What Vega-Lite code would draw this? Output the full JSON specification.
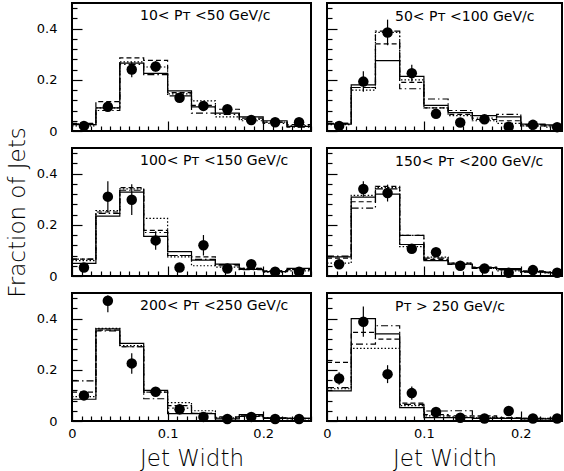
{
"$schema": "https://vega.github.io/schema/vega-lite/v6.json",
"padding": {"left": 5, "top": 1, "right": 0, "bottom": 0},
"background": "white",
"datasets": {
"hist": [
{"p":1,"x":0,"S":0.025,"D":0.03,"O":0.02,"DD":0.028},
{"p":1,"x":0.025,"S":0.09,"D":0.115,"O":0.09,"DD":0.08},
{"p":1,"x":0.05,"S":0.265,"D":0.286,"O":0.27,"DD":0.26},
{"p":1,"x":0.075,"S":0.225,"D":0.276,"O":0.25,"DD":0.22},
{"p":1,"x":0.1,"S":0.157,"D":0.15,"O":0.145,"DD":0.137},
{"p":1,"x":0.125,"S":0.094,"D":0.1,"O":0.118,"DD":0.07},
{"p":1,"x":0.15,"S":0.07,"D":0.085,"O":0.055,"DD":0.065},
{"p":1,"x":0.175,"S":0.055,"D":0.05,"O":0.045,"DD":0.04},
{"p":1,"x":0.2,"S":0.04,"D":0.035,"O":0.035,"DD":0.03},
{"p":1,"x":0.225,"S":0.018,"D":0.025,"O":0.02,"DD":0.015},
{"p":1,"x":0.25,"S":0.018,"D":0.025,"O":0.02,"DD":0.015},
{"p":2,"x":0,"S":0.027,"D":0.03,"O":0.025,"DD":0.03},
{"p":2,"x":0.025,"S":0.18,"D":0.17,"O":0.16,"DD":0.17},
{"p":2,"x":0.05,"S":0.275,"D":0.34,"O":0.385,"DD":0.39},
{"p":2,"x":0.075,"S":0.213,"D":0.19,"O":0.2,"DD":0.165},
{"p":2,"x":0.1,"S":0.1,"D":0.09,"O":0.09,"DD":0.125},
{"p":2,"x":0.125,"S":0.072,"D":0.065,"O":0.06,"DD":0.08},
{"p":2,"x":0.15,"S":0.06,"D":0.045,"O":0.04,"DD":0.05},
{"p":2,"x":0.175,"S":0.055,"D":0.04,"O":0.03,"DD":0.065},
{"p":2,"x":0.2,"S":0.027,"D":0.02,"O":0.02,"DD":0.025},
{"p":2,"x":0.225,"S":0.024,"D":0.02,"O":0.015,"DD":0.02},
{"p":2,"x":0.25,"S":0.024,"D":0.02,"O":0.015,"DD":0.02},
{"p":3,"x":0,"S":0.049,"D":0.066,"O":0.06,"DD":0.066},
{"p":3,"x":0.025,"S":0.234,"D":0.25,"O":0.255,"DD":0.245},
{"p":3,"x":0.05,"S":0.328,"D":0.345,"O":0.34,"DD":0.335},
{"p":3,"x":0.075,"S":0.155,"D":0.178,"O":0.225,"DD":0.17},
{"p":3,"x":0.1,"S":0.095,"D":0.08,"O":0.075,"DD":0.08},
{"p":3,"x":0.125,"S":0.062,"D":0.075,"O":0.04,"DD":0.065},
{"p":3,"x":0.15,"S":0.046,"D":0.04,"O":0.035,"DD":0.045},
{"p":3,"x":0.175,"S":0.026,"D":0.03,"O":0.03,"DD":0.025},
{"p":3,"x":0.2,"S":0.017,"D":0.02,"O":0.015,"DD":0.02},
{"p":3,"x":0.225,"S":0.03,"D":0.025,"O":0.02,"DD":0.025},
{"p":3,"x":0.25,"S":0.03,"D":0.025,"O":0.02,"DD":0.025},
{"p":4,"x":0,"S":0.075,"D":0.07,"O":0.05,"DD":0.078},
{"p":4,"x":0.025,"S":0.308,"D":0.29,"O":0.315,"DD":0.265},
{"p":4,"x":0.05,"S":0.32,"D":0.35,"O":0.345,"DD":0.34},
{"p":4,"x":0.075,"S":0.123,"D":0.159,"O":0.115,"DD":0.159},
{"p":4,"x":0.1,"S":0.06,"D":0.065,"O":0.074,"DD":0.07},
{"p":4,"x":0.125,"S":0.046,"D":0.05,"O":0.05,"DD":0.045},
{"p":4,"x":0.15,"S":0.033,"D":0.035,"O":0.03,"DD":0.03},
{"p":4,"x":0.175,"S":0.029,"D":0.025,"O":0.02,"DD":0.025},
{"p":4,"x":0.2,"S":0.017,"D":0.02,"O":0.015,"DD":0.015},
{"p":4,"x":0.225,"S":0.013,"D":0.015,"O":0.012,"DD":0.015},
{"p":4,"x":0.25,"S":0.013,"D":0.015,"O":0.012,"DD":0.015},
{"p":5,"x":0,"S":0.085,"D":0.113,"O":0.095,"DD":0.157},
{"p":5,"x":0.025,"S":0.36,"D":0.355,"O":0.362,"DD":0.352},
{"p":5,"x":0.05,"S":0.303,"D":0.29,"O":0.295,"DD":0.29},
{"p":5,"x":0.075,"S":0.12,"D":0.113,"O":0.113,"DD":0.087},
{"p":5,"x":0.1,"S":0.029,"D":0.06,"O":0.072,"DD":0.05},
{"p":5,"x":0.125,"S":0.029,"D":0.03,"O":0.04,"DD":0.03},
{"p":5,"x":0.15,"S":0.008,"D":0.016,"O":0.012,"DD":0.012},
{"p":5,"x":0.175,"S":0.025,"D":0.02,"O":0.02,"DD":0.018},
{"p":5,"x":0.2,"S":0.012,"D":0.01,"O":0.012,"DD":0.01},
{"p":5,"x":0.225,"S":0.01,"D":0.01,"O":0.008,"DD":0.01},
{"p":5,"x":0.25,"S":0.01,"D":0.01,"O":0.008,"DD":0.01},
{"p":6,"x":0,"S":0.118,"D":0.229,"O":0.126,"DD":0.13},
{"p":6,"x":0.025,"S":0.4,"D":0.346,"O":0.284,"DD":0.3},
{"p":6,"x":0.05,"S":0.34,"D":0.32,"O":0.284,"DD":0.372},
{"p":6,"x":0.075,"S":0.052,"D":0.07,"O":0.06,"DD":0.065},
{"p":6,"x":0.1,"S":0.013,"D":0.025,"O":0.02,"DD":0.039},
{"p":6,"x":0.125,"S":0.013,"D":0.02,"O":0.015,"DD":0.04},
{"p":6,"x":0.15,"S":0.01,"D":0.02,"O":0.012,"DD":0.015},
{"p":6,"x":0.175,"S":0.01,"D":0.012,"O":0.01,"DD":0.012},
{"p":6,"x":0.2,"S":0.008,"D":0.01,"O":0.008,"DD":0.01},
{"p":6,"x":0.225,"S":0.008,"D":0.01,"O":0.008,"DD":0.01},
{"p":6,"x":0.25,"S":0.008,"D":0.01,"O":0.008,"DD":0.01}
],
"pts": [
{"p":1,"x":0.0125,"v":0.02,"lo":0.015,"hi":0.025},
{"p":1,"x":0.0375,"v":0.095,"lo":0.085,"hi":0.105},
{"p":1,"x":0.0625,"v":0.24,"lo":0.21,"hi":0.27},
{"p":1,"x":0.0875,"v":0.252,"lo":0.232,"hi":0.272},
{"p":1,"x":0.1125,"v":0.13,"lo":0.118,"hi":0.142},
{"p":1,"x":0.1375,"v":0.098,"lo":0.088,"hi":0.108},
{"p":1,"x":0.1625,"v":0.085,"lo":0.077,"hi":0.093},
{"p":1,"x":0.1875,"v":0.043,"lo":0.037,"hi":0.049},
{"p":1,"x":0.2125,"v":0.034,"lo":0.029,"hi":0.039},
{"p":1,"x":0.2375,"v":0.034,"lo":0.029,"hi":0.039},
{"p":2,"x":0.0125,"v":0.02,"lo":0.015,"hi":0.025},
{"p":2,"x":0.0375,"v":0.193,"lo":0.153,"hi":0.233},
{"p":2,"x":0.0625,"v":0.385,"lo":0.335,"hi":0.435},
{"p":2,"x":0.0875,"v":0.226,"lo":0.193,"hi":0.259},
{"p":2,"x":0.1125,"v":0.067,"lo":0.052,"hi":0.082},
{"p":2,"x":0.1375,"v":0.033,"lo":0.023,"hi":0.043},
{"p":2,"x":0.1625,"v":0.046,"lo":0.036,"hi":0.056},
{"p":2,"x":0.1875,"v":0.017,"lo":0.011,"hi":0.023},
{"p":2,"x":0.2125,"v":0.024,"lo":0.018,"hi":0.03},
{"p":2,"x":0.2375,"v":0.015,"lo":0.01,"hi":0.02},
{"p":3,"x":0.0125,"v":0.033,"lo":0.023,"hi":0.043},
{"p":3,"x":0.0375,"v":0.31,"lo":0.25,"hi":0.37},
{"p":3,"x":0.0625,"v":0.298,"lo":0.238,"hi":0.358},
{"p":3,"x":0.0875,"v":0.139,"lo":0.103,"hi":0.175},
{"p":3,"x":0.1125,"v":0.033,"lo":0.023,"hi":0.043},
{"p":3,"x":0.1375,"v":0.12,"lo":0.08,"hi":0.16},
{"p":3,"x":0.1625,"v":0.029,"lo":0.019,"hi":0.039},
{"p":3,"x":0.1875,"v":0.046,"lo":0.036,"hi":0.056},
{"p":3,"x":0.2125,"v":0.017,"lo":0.011,"hi":0.023},
{"p":3,"x":0.2375,"v":0.017,"lo":0.011,"hi":0.023},
{"p":4,"x":0.0125,"v":0.046,"lo":0.036,"hi":0.056},
{"p":4,"x":0.0375,"v":0.34,"lo":0.31,"hi":0.37},
{"p":4,"x":0.0625,"v":0.324,"lo":0.291,"hi":0.357},
{"p":4,"x":0.0875,"v":0.106,"lo":0.091,"hi":0.121},
{"p":4,"x":0.1125,"v":0.093,"lo":0.078,"hi":0.108},
{"p":4,"x":0.1375,"v":0.04,"lo":0.03,"hi":0.05},
{"p":4,"x":0.1625,"v":0.029,"lo":0.021,"hi":0.037},
{"p":4,"x":0.1875,"v":0.013,"lo":0.008,"hi":0.018},
{"p":4,"x":0.2125,"v":0.023,"lo":0.018,"hi":0.028},
{"p":4,"x":0.2375,"v":0.013,"lo":0.008,"hi":0.018},
{"p":5,"x":0.0125,"v":0.1,"lo":0.085,"hi":0.115},
{"p":5,"x":0.0375,"v":0.47,"lo":0.425,"hi":0.49},
{"p":5,"x":0.0625,"v":0.225,"lo":0.185,"hi":0.265},
{"p":5,"x":0.0875,"v":0.114,"lo":0.099,"hi":0.129},
{"p":5,"x":0.1125,"v":0.046,"lo":0.026,"hi":0.066},
{"p":5,"x":0.1375,"v":0.016,"lo":0.011,"hi":0.021},
{"p":5,"x":0.1625,"v":0.008,"lo":0.004,"hi":0.012},
{"p":5,"x":0.1875,"v":0.016,"lo":0.011,"hi":0.021},
{"p":5,"x":0.2125,"v":0.008,"lo":0.004,"hi":0.012},
{"p":5,"x":0.2375,"v":0.008,"lo":0.004,"hi":0.012},
{"p":6,"x":0.0125,"v":0.166,"lo":0.142,"hi":0.19},
{"p":6,"x":0.0375,"v":0.388,"lo":0.329,"hi":0.447},
{"p":6,"x":0.0625,"v":0.183,"lo":0.148,"hi":0.218},
{"p":6,"x":0.0875,"v":0.109,"lo":0.083,"hi":0.135},
{"p":6,"x":0.1125,"v":0.035,"lo":0.025,"hi":0.045},
{"p":6,"x":0.1375,"v":0.013,"lo":0.008,"hi":0.018},
{"p":6,"x":0.1625,"v":0.01,"lo":0.006,"hi":0.014},
{"p":6,"x":0.1875,"v":0.039,"lo":0.031,"hi":0.047},
{"p":6,"x":0.2125,"v":0.01,"lo":0.006,"hi":0.014},
{"p":6,"x":0.2375,"v":0.01,"lo":0.006,"hi":0.014}
]
},
"columns": 2,
"spacing": {"row": 17, "column": 16},
"bounds": "flush",
"concat": [
{"width": 239, "height": 128,
 "title": {"text": "10< Pᴛ <50 GeV/c", "anchor": "start", "frame": "group", "dx": 68, "offset": -21, "fontSize": 14, "font": "DejaVu Sans", "fontWeight": "normal", "color": "black"},
 "encoding": {
   "x": {"field": "x", "type": "quantitative", "scale": {"domain": [0, 0.25], "nice": false},
     "axis": {"values": [0,0.01,0.02,0.03,0.04,0.05,0.06,0.07,0.08,0.09,0.1,0.11,0.12,0.13,0.14,0.15,0.16,0.17,0.18,0.19,0.2,0.21,0.22,0.23,0.24,0.25], "labels": false, "title": null,
     "tickSize": {"condition": {"test": "abs(datum.value) < 0.001 || abs(datum.value - 0.1) < 0.001 || abs(datum.value - 0.2) < 0.001", "value": -10}, "value": -5}}},
   "y": {"field": "v", "type": "quantitative", "scale": {"domain": [0, 0.5], "nice": false},
     "axis": {"values": [0,0.04,0.08,0.12,0.16,0.2,0.24,0.28,0.32,0.36,0.4,0.44,0.48], "title": null, "labelPadding": 25, "labelOverlap": false,
       "tickSize": {"condition": {"test": "abs(datum.value) < 0.001 || abs(datum.value - 0.2) < 0.001 || abs(datum.value - 0.4) < 0.001", "value": -10}, "value": -5},
       "labelExpr": "abs(datum.value) < 0.001 ? '0' : abs(datum.value - 0.2) < 0.001 ? '0.2' : abs(datum.value - 0.4) < 0.001 ? '0.4' : ''"}}},
 "layer": [
  {"data": {"name": "hist"}, "transform": [{"filter": "datum.p == 1"}, {"fold": ["S","D","O","DD"], "as": ["s","v"]}],
   "mark": {"type": "line", "interpolate": "step-after", "clip": true, "color": "black", "strokeWidth": 1.2},
   "encoding": {"strokeDash": {"field": "s", "type": "nominal", "scale": {"domain": ["S","D","O","DD"], "range": [[1,0],[5,3],[1.5,2],[7,3,1.5,3]]}, "legend": null}}},
  {"data": {"name": "pts"}, "transform": [{"filter": "datum.p == 1"}], "mark": {"type": "rule", "color": "black", "strokeWidth": 1.2},
   "encoding": {"y": {"field": "lo", "type": "quantitative",
     "axis": {"values": [0,0.04,0.08,0.12,0.16,0.2,0.24,0.28,0.32,0.36,0.4,0.44,0.48], "title": null, "labelPadding": 25, "labelOverlap": false,
       "tickSize": {"condition": {"test": "abs(datum.value) < 0.001 || abs(datum.value - 0.2) < 0.001 || abs(datum.value - 0.4) < 0.001", "value": -10}, "value": -5},
       "labelExpr": "abs(datum.value) < 0.001 ? '0' : abs(datum.value - 0.2) < 0.001 ? '0.2' : abs(datum.value - 0.4) < 0.001 ? '0.4' : ''"}}, "y2": {"field": "hi"}}},
  {"data": {"name": "pts"}, "transform": [{"filter": "datum.p == 1"}], "mark": {"type": "point", "shape": "circle", "filled": true, "size": 110, "color": "black", "opacity": 1}}
 ]},
{"width": 235, "height": 128,
 "title": {"text": "50< Pᴛ <100 GeV/c", "anchor": "start", "frame": "group", "dx": 68, "offset": -21, "fontSize": 14, "font": "DejaVu Sans", "fontWeight": "normal", "color": "black"},
 "encoding": {
   "x": {"field": "x", "type": "quantitative", "scale": {"domain": [0, 0.2425], "nice": false},
     "axis": {"values": [0,0.01,0.02,0.03,0.04,0.05,0.06,0.07,0.08,0.09,0.1,0.11,0.12,0.13,0.14,0.15,0.16,0.17,0.18,0.19,0.2,0.21,0.22,0.23,0.24], "labels": false, "title": null,
     "tickSize": {"condition": {"test": "abs(datum.value) < 0.001 || abs(datum.value - 0.1) < 0.001 || abs(datum.value - 0.2) < 0.001", "value": -10}, "value": -5}}},
   "y": {"field": "v", "type": "quantitative", "scale": {"domain": [0, 0.5], "nice": false},
     "axis": {"values": [0,0.04,0.08,0.12,0.16,0.2,0.24,0.28,0.32,0.36,0.4,0.44,0.48], "title": null, "labels": false,
       "tickSize": {"condition": {"test": "abs(datum.value) < 0.001 || abs(datum.value - 0.2) < 0.001 || abs(datum.value - 0.4) < 0.001", "value": -10}, "value": -5}}}},
 "layer": [
  {"data": {"name": "hist"}, "transform": [{"filter": "datum.p == 2"}, {"fold": ["S","D","O","DD"], "as": ["s","v"]}],
   "mark": {"type": "line", "interpolate": "step-after", "clip": true, "color": "black", "strokeWidth": 1.2},
   "encoding": {"strokeDash": {"field": "s", "type": "nominal", "scale": {"domain": ["S","D","O","DD"], "range": [[1,0],[5,3],[1.5,2],[7,3,1.5,3]]}, "legend": null}}},
  {"data": {"name": "pts"}, "transform": [{"filter": "datum.p == 2"}], "mark": {"type": "rule", "color": "black", "strokeWidth": 1.2},
   "encoding": {"y": {"field": "lo", "type": "quantitative",
     "axis": {"values": [0,0.04,0.08,0.12,0.16,0.2,0.24,0.28,0.32,0.36,0.4,0.44,0.48], "title": null, "labels": false,
       "tickSize": {"condition": {"test": "abs(datum.value) < 0.001 || abs(datum.value - 0.2) < 0.001 || abs(datum.value - 0.4) < 0.001", "value": -10}, "value": -5}}}, "y2": {"field": "hi"}}},
  {"data": {"name": "pts"}, "transform": [{"filter": "datum.p == 2"}], "mark": {"type": "point", "shape": "circle", "filled": true, "size": 110, "color": "black", "opacity": 1}}
 ]},
{"width": 239, "height": 128,
 "title": {"text": "100< Pᴛ <150 GeV/c", "anchor": "start", "frame": "group", "dx": 68, "offset": -41, "fontSize": 14, "font": "DejaVu Sans", "fontWeight": "normal", "color": "black"},
 "encoding": {
   "x": {"field": "x", "type": "quantitative", "scale": {"domain": [0, 0.25], "nice": false},
     "axis": {"values": [0,0.01,0.02,0.03,0.04,0.05,0.06,0.07,0.08,0.09,0.1,0.11,0.12,0.13,0.14,0.15,0.16,0.17,0.18,0.19,0.2,0.21,0.22,0.23,0.24,0.25], "labels": false, "title": null,
     "tickSize": {"condition": {"test": "abs(datum.value) < 0.001 || abs(datum.value - 0.1) < 0.001 || abs(datum.value - 0.2) < 0.001", "value": -10}, "value": -5}}},
   "y": {"field": "v", "type": "quantitative", "scale": {"domain": [0, 0.5], "nice": false},
     "axis": {"values": [0,0.04,0.08,0.12,0.16,0.2,0.24,0.28,0.32,0.36,0.4,0.44,0.48], "title": "Fraction of Jets", "labelPadding": 25, "titlePadding": 7, "labelOverlap": false,
       "tickSize": {"condition": {"test": "abs(datum.value) < 0.001 || abs(datum.value - 0.2) < 0.001 || abs(datum.value - 0.4) < 0.001", "value": -10}, "value": -5},
       "labelExpr": "abs(datum.value) < 0.001 ? '0' : abs(datum.value - 0.2) < 0.001 ? '0.2' : abs(datum.value - 0.4) < 0.001 ? '0.4' : ''"}}},
 "layer": [
  {"data": {"name": "hist"}, "transform": [{"filter": "datum.p == 3"}, {"fold": ["S","D","O","DD"], "as": ["s","v"]}],
   "mark": {"type": "line", "interpolate": "step-after", "clip": true, "color": "black", "strokeWidth": 1.2},
   "encoding": {"strokeDash": {"field": "s", "type": "nominal", "scale": {"domain": ["S","D","O","DD"], "range": [[1,0],[5,3],[1.5,2],[7,3,1.5,3]]}, "legend": null}}},
  {"data": {"name": "pts"}, "transform": [{"filter": "datum.p == 3"}], "mark": {"type": "rule", "color": "black", "strokeWidth": 1.2},
   "encoding": {"y": {"field": "lo", "type": "quantitative",
     "axis": {"values": [0,0.04,0.08,0.12,0.16,0.2,0.24,0.28,0.32,0.36,0.4,0.44,0.48], "title": "Fraction of Jets", "labelPadding": 25, "titlePadding": 7, "labelOverlap": false,
       "tickSize": {"condition": {"test": "abs(datum.value) < 0.001 || abs(datum.value - 0.2) < 0.001 || abs(datum.value - 0.4) < 0.001", "value": -10}, "value": -5},
       "labelExpr": "abs(datum.value) < 0.001 ? '0' : abs(datum.value - 0.2) < 0.001 ? '0.2' : abs(datum.value - 0.4) < 0.001 ? '0.4' : ''"}}, "y2": {"field": "hi"}}},
  {"data": {"name": "pts"}, "transform": [{"filter": "datum.p == 3"}], "mark": {"type": "point", "shape": "circle", "filled": true, "size": 110, "color": "black", "opacity": 1}}
 ]},
{"width": 235, "height": 128,
 "title": {"text": "150< Pᴛ <200 GeV/c", "anchor": "start", "frame": "group", "dx": 68, "offset": -21, "fontSize": 14, "font": "DejaVu Sans", "fontWeight": "normal", "color": "black"},
 "encoding": {
   "x": {"field": "x", "type": "quantitative", "scale": {"domain": [0, 0.2425], "nice": false},
     "axis": {"values": [0,0.01,0.02,0.03,0.04,0.05,0.06,0.07,0.08,0.09,0.1,0.11,0.12,0.13,0.14,0.15,0.16,0.17,0.18,0.19,0.2,0.21,0.22,0.23,0.24], "labels": false, "title": null,
     "tickSize": {"condition": {"test": "abs(datum.value) < 0.001 || abs(datum.value - 0.1) < 0.001 || abs(datum.value - 0.2) < 0.001", "value": -10}, "value": -5}}},
   "y": {"field": "v", "type": "quantitative", "scale": {"domain": [0, 0.5], "nice": false},
     "axis": {"values": [0,0.04,0.08,0.12,0.16,0.2,0.24,0.28,0.32,0.36,0.4,0.44,0.48], "title": null, "labels": false,
       "tickSize": {"condition": {"test": "abs(datum.value) < 0.001 || abs(datum.value - 0.2) < 0.001 || abs(datum.value - 0.4) < 0.001", "value": -10}, "value": -5}}}},
 "layer": [
  {"data": {"name": "hist"}, "transform": [{"filter": "datum.p == 4"}, {"fold": ["S","D","O","DD"], "as": ["s","v"]}],
   "mark": {"type": "line", "interpolate": "step-after", "clip": true, "color": "black", "strokeWidth": 1.2},
   "encoding": {"strokeDash": {"field": "s", "type": "nominal", "scale": {"domain": ["S","D","O","DD"], "range": [[1,0],[5,3],[1.5,2],[7,3,1.5,3]]}, "legend": null}}},
  {"data": {"name": "pts"}, "transform": [{"filter": "datum.p == 4"}], "mark": {"type": "rule", "color": "black", "strokeWidth": 1.2},
   "encoding": {"y": {"field": "lo", "type": "quantitative",
     "axis": {"values": [0,0.04,0.08,0.12,0.16,0.2,0.24,0.28,0.32,0.36,0.4,0.44,0.48], "title": null, "labels": false,
       "tickSize": {"condition": {"test": "abs(datum.value) < 0.001 || abs(datum.value - 0.2) < 0.001 || abs(datum.value - 0.4) < 0.001", "value": -10}, "value": -5}}}, "y2": {"field": "hi"}}},
  {"data": {"name": "pts"}, "transform": [{"filter": "datum.p == 4"}], "mark": {"type": "point", "shape": "circle", "filled": true, "size": 110, "color": "black", "opacity": 1}}
 ]},
{"width": 239, "height": 128,
 "title": {"text": "200< Pᴛ <250 GeV/c", "anchor": "start", "frame": "group", "dx": 68, "offset": -21, "fontSize": 14, "font": "DejaVu Sans", "fontWeight": "normal", "color": "black"},
 "encoding": {
   "x": {"field": "x", "type": "quantitative", "scale": {"domain": [0, 0.25], "nice": false},
     "axis": {"values": [0,0.01,0.02,0.03,0.04,0.05,0.06,0.07,0.08,0.09,0.1,0.11,0.12,0.13,0.14,0.15,0.16,0.17,0.18,0.19,0.2,0.21,0.22,0.23,0.24,0.25], "title": "Jet Width", "labelFlush": false, "labelPadding": 16, "titlePadding": 7,
     "tickSize": {"condition": {"test": "abs(datum.value) < 0.001 || abs(datum.value - 0.1) < 0.001 || abs(datum.value - 0.2) < 0.001", "value": -10}, "value": -5},
     "labelExpr": "abs(datum.value) < 0.001 ? '0' : abs(datum.value - 0.1) < 0.001 ? '0.1' : abs(datum.value - 0.2) < 0.001 ? '0.2' : ''"}},
   "y": {"field": "v", "type": "quantitative", "scale": {"domain": [0, 0.5], "nice": false},
     "axis": {"values": [0,0.04,0.08,0.12,0.16,0.2,0.24,0.28,0.32,0.36,0.4,0.44,0.48], "title": null, "labelPadding": 25, "labelOverlap": false,
       "tickSize": {"condition": {"test": "abs(datum.value) < 0.001 || abs(datum.value - 0.2) < 0.001 || abs(datum.value - 0.4) < 0.001", "value": -10}, "value": -5},
       "labelExpr": "abs(datum.value) < 0.001 ? '0' : abs(datum.value - 0.2) < 0.001 ? '0.2' : abs(datum.value - 0.4) < 0.001 ? '0.4' : ''"}}},
 "layer": [
  {"data": {"name": "hist"}, "transform": [{"filter": "datum.p == 5"}, {"fold": ["S","D","O","DD"], "as": ["s","v"]}],
   "mark": {"type": "line", "interpolate": "step-after", "clip": true, "color": "black", "strokeWidth": 1.2},
   "encoding": {"strokeDash": {"field": "s", "type": "nominal", "scale": {"domain": ["S","D","O","DD"], "range": [[1,0],[5,3],[1.5,2],[7,3,1.5,3]]}, "legend": null}}},
  {"data": {"name": "pts"}, "transform": [{"filter": "datum.p == 5"}], "mark": {"type": "rule", "color": "black", "strokeWidth": 1.2},
   "encoding": {"y": {"field": "lo", "type": "quantitative",
     "axis": {"values": [0,0.04,0.08,0.12,0.16,0.2,0.24,0.28,0.32,0.36,0.4,0.44,0.48], "title": null, "labelPadding": 25, "labelOverlap": false,
       "tickSize": {"condition": {"test": "abs(datum.value) < 0.001 || abs(datum.value - 0.2) < 0.001 || abs(datum.value - 0.4) < 0.001", "value": -10}, "value": -5},
       "labelExpr": "abs(datum.value) < 0.001 ? '0' : abs(datum.value - 0.2) < 0.001 ? '0.2' : abs(datum.value - 0.4) < 0.001 ? '0.4' : ''"}}, "y2": {"field": "hi"}}},
  {"data": {"name": "pts"}, "transform": [{"filter": "datum.p == 5"}], "mark": {"type": "point", "shape": "circle", "filled": true, "size": 110, "color": "black", "opacity": 1}}
 ]},
{"width": 235, "height": 128,
 "title": {"text": "Pᴛ > 250 GeV/c", "anchor": "start", "frame": "group", "dx": 68, "offset": -21, "fontSize": 14, "font": "DejaVu Sans", "fontWeight": "normal", "color": "black"},
 "encoding": {
   "x": {"field": "x", "type": "quantitative", "scale": {"domain": [0, 0.2425], "nice": false},
     "axis": {"values": [0,0.01,0.02,0.03,0.04,0.05,0.06,0.07,0.08,0.09,0.1,0.11,0.12,0.13,0.14,0.15,0.16,0.17,0.18,0.19,0.2,0.21,0.22,0.23,0.24], "title": "Jet Width", "labelFlush": false, "labelPadding": 16, "titlePadding": 7,
     "tickSize": {"condition": {"test": "abs(datum.value) < 0.001 || abs(datum.value - 0.1) < 0.001 || abs(datum.value - 0.2) < 0.001", "value": -10}, "value": -5},
     "labelExpr": "abs(datum.value) < 0.001 ? '0' : abs(datum.value - 0.1) < 0.001 ? '0.1' : abs(datum.value - 0.2) < 0.001 ? '0.2' : ''"}},
   "y": {"field": "v", "type": "quantitative", "scale": {"domain": [0, 0.5], "nice": false},
     "axis": {"values": [0,0.04,0.08,0.12,0.16,0.2,0.24,0.28,0.32,0.36,0.4,0.44,0.48], "title": null, "labels": false,
       "tickSize": {"condition": {"test": "abs(datum.value) < 0.001 || abs(datum.value - 0.2) < 0.001 || abs(datum.value - 0.4) < 0.001", "value": -10}, "value": -5}}}},
 "layer": [
  {"data": {"name": "hist"}, "transform": [{"filter": "datum.p == 6"}, {"fold": ["S","D","O","DD"], "as": ["s","v"]}],
   "mark": {"type": "line", "interpolate": "step-after", "clip": true, "color": "black", "strokeWidth": 1.2},
   "encoding": {"strokeDash": {"field": "s", "type": "nominal", "scale": {"domain": ["S","D","O","DD"], "range": [[1,0],[5,3],[1.5,2],[7,3,1.5,3]]}, "legend": null}}},
  {"data": {"name": "pts"}, "transform": [{"filter": "datum.p == 6"}], "mark": {"type": "rule", "color": "black", "strokeWidth": 1.2},
   "encoding": {"y": {"field": "lo", "type": "quantitative",
     "axis": {"values": [0,0.04,0.08,0.12,0.16,0.2,0.24,0.28,0.32,0.36,0.4,0.44,0.48], "title": null, "labels": false,
       "tickSize": {"condition": {"test": "abs(datum.value) < 0.001 || abs(datum.value - 0.2) < 0.001 || abs(datum.value - 0.4) < 0.001", "value": -10}, "value": -5}}}, "y2": {"field": "hi"}}},
  {"data": {"name": "pts"}, "transform": [{"filter": "datum.p == 6"}], "mark": {"type": "point", "shape": "circle", "filled": true, "size": 110, "color": "black", "opacity": 1}}
 ]}
],
"config": {
 "view": {"stroke": "black", "strokeWidth": 2},
 "axis": {"domain": false, "grid": false, "ticks": true, "tickColor": "black", "tickWidth": 1.2,
   "labelColor": "black", "labelFont": "DejaVu Sans", "labelFontSize": 13,
   "titleFont": "DejaVu Sans", "titleFontSize": 23, "titleFontWeight": 200, "titleColor": "black"}
}
}
